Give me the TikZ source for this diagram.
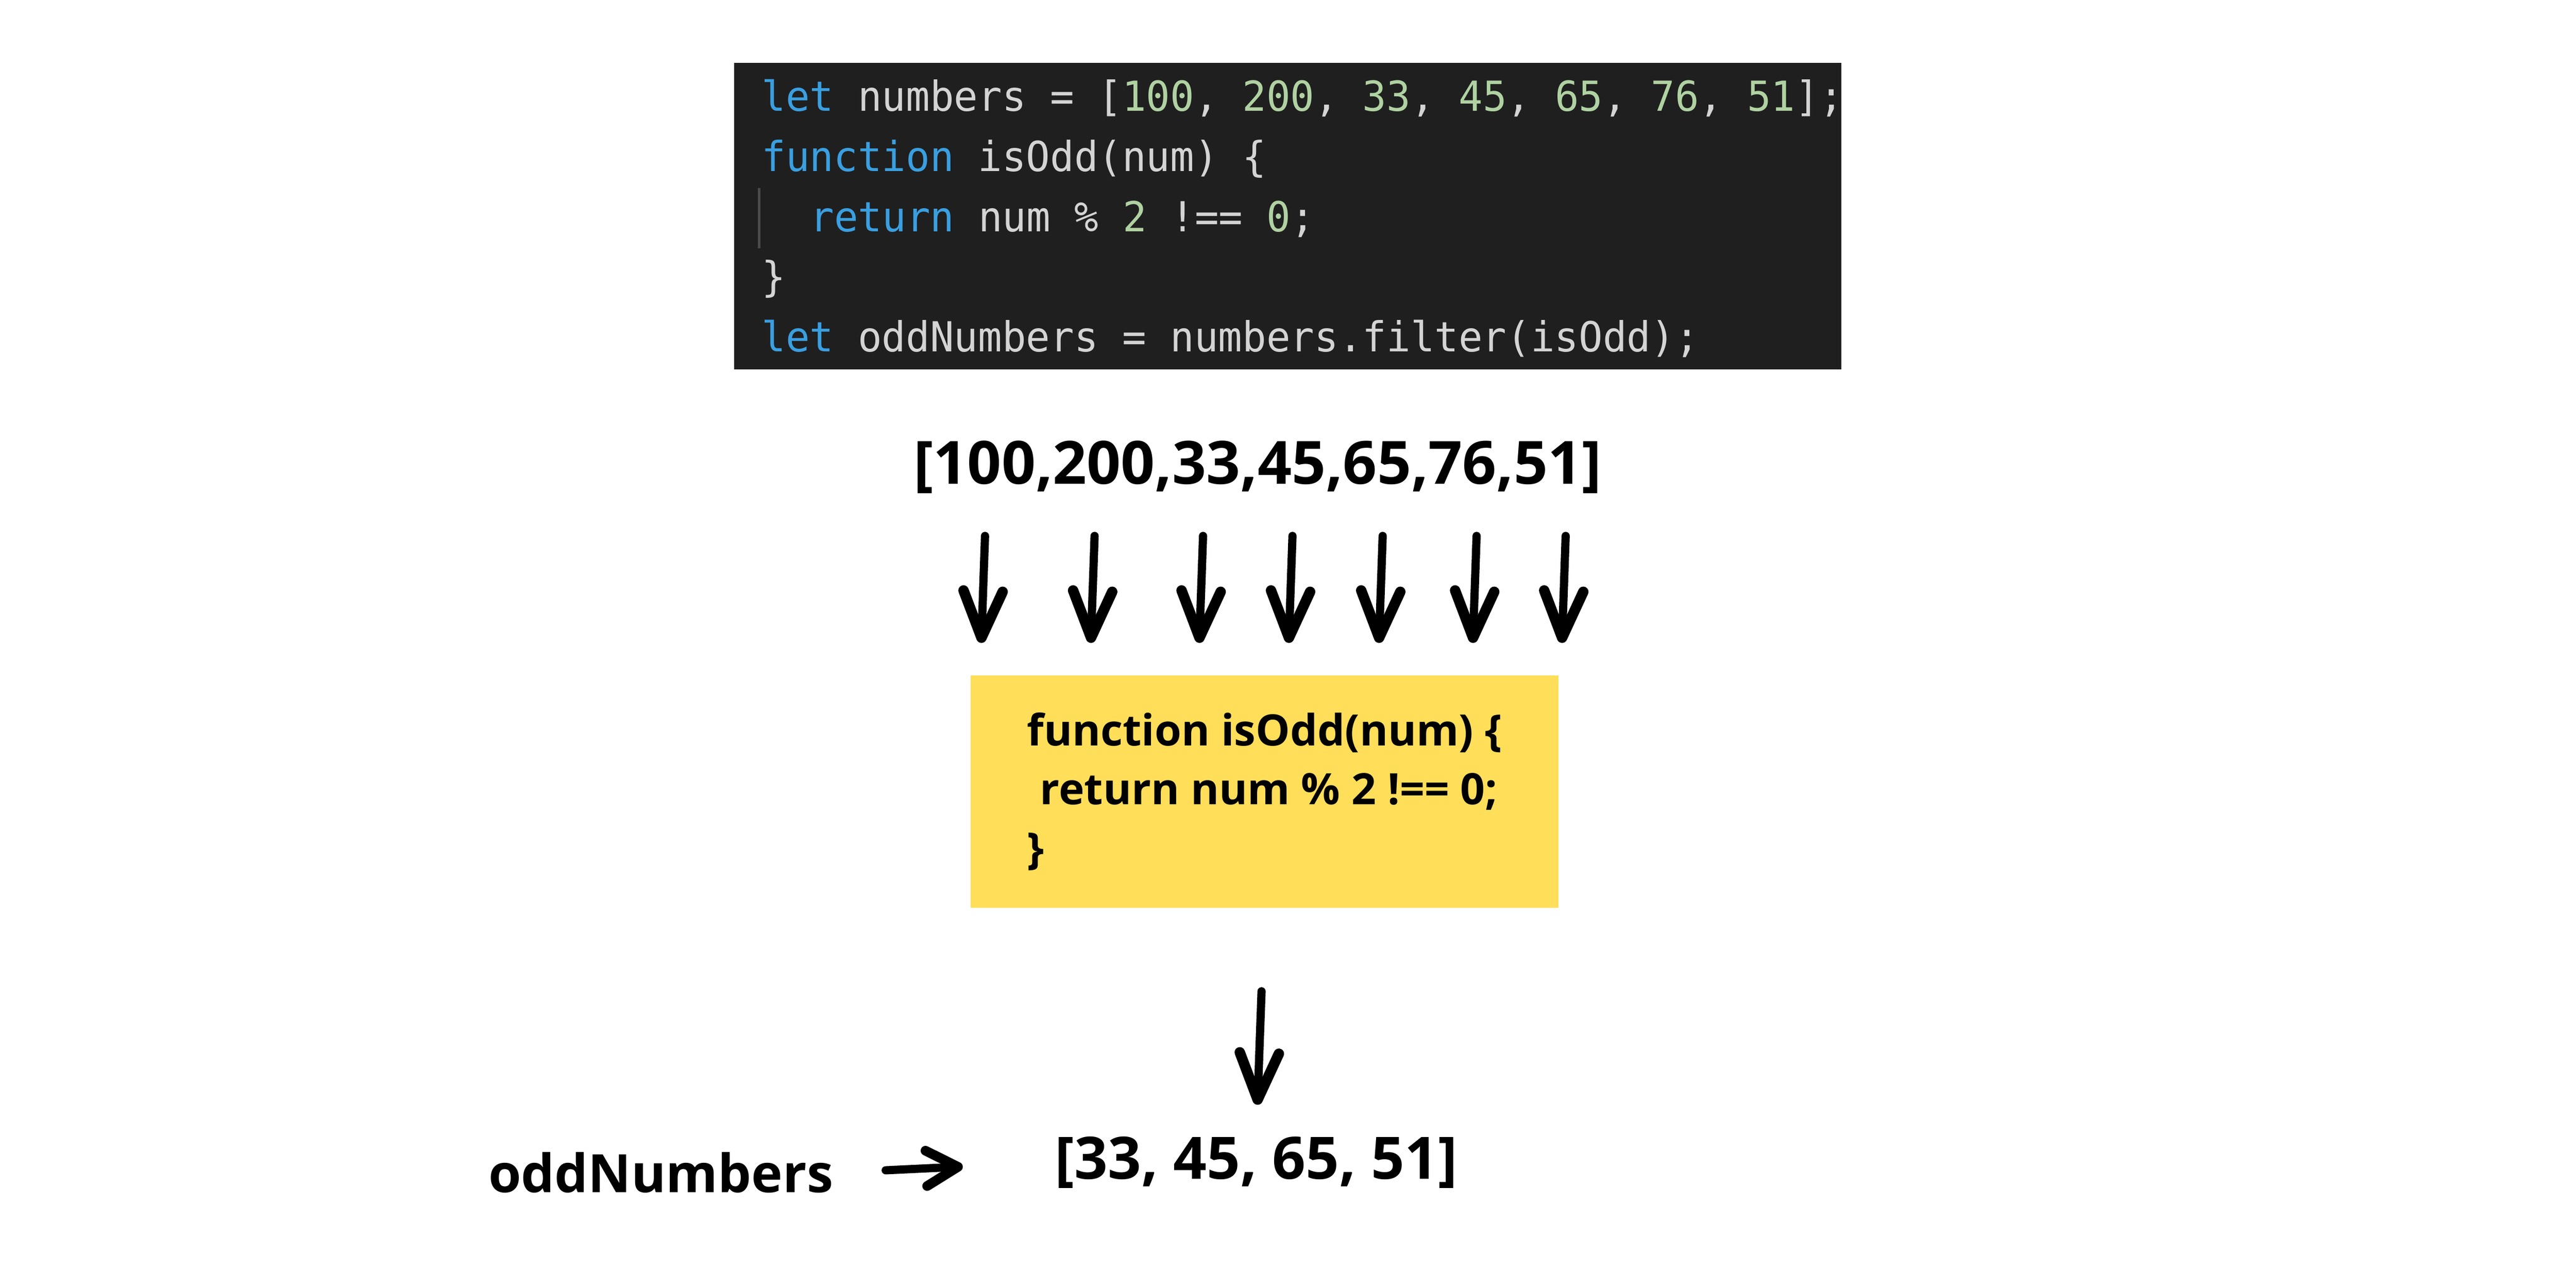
\documentclass[tikz,border=0pt]{standalone}
\usepackage{fontspec}
\setmainfont{Open Sans}
\newfontfamily\codefont{DejaVu Sans Mono}[FakeStretch=0.965]
\usetikzlibrary{arrows.meta}

\definecolor{codebg}{HTML}{1F1F1F}
\definecolor{codetxt}{HTML}{D4D4D4}
\definecolor{kwblue}{HTML}{3A9FE0}
\definecolor{numgreen}{HTML}{B0D2A2}
\definecolor{guide}{HTML}{4A4A4A}
\definecolor{filtyellow}{HTML}{FFDE59}

\newcommand{\kw}[1]{\textcolor{kwblue}{#1}}
\newcommand{\nm}[1]{\textcolor{numgreen}{#1}}

\begin{document}
\begin{tikzpicture}[x=10pt,y=-10pt,
    codeline/.style={anchor=base west,inner sep=0pt,text=codetxt,
      font=\codefont\fontsize{11.1}{13}\selectfont},
    bigtext/.style={inner sep=0pt,font=\bfseries\fontsize{16}{19}\selectfont},
    sketch/.style={line width=2.2pt,line cap=round,
      -{Straight Barb[length=12.5pt,width=10.5pt,line width=2.8pt,round]}},
    sketch small/.style={line width=2.2pt,line cap=round,
      -{Straight Barb[length=8.5pt,width=9.5pt,line width=2.6pt,round]}}]
  \useasboundingbox (0,0) rectangle (69.12,34.56);

  % code screenshot
  \fill[codebg] (19.70,1.69) rectangle (49.41,9.91);
  \draw[guide,line width=0.6pt] (20.37,5.04) -- (20.37,6.66);
  \node[codeline] (code1) at (20.42,2.98) {\kw{let} numbers = [\nm{100}, \nm{200}, \nm{33}, \nm{45}, \nm{65}, \nm{76}, \nm{51}];};
  \node[codeline] (code2) at (20.42,4.60) {\kw{function} isOdd(num) \{};
  \node[codeline] (code3) at (21.72,6.21) {\kw{return} num \% \nm{2} !== \nm{0};};
  \node[codeline] (code4) at (20.42,7.82) {\}};
  \node[codeline] (code5) at (20.42,9.43) {\kw{let} oddNumbers = numbers.filter(isOdd);};

  % input array
  \node[bigtext,anchor=base] (in) at (33.745,12.99) {[100,200,33,45,65,76,51]};
  \foreach \x [count=\i] in {26.33,29.27,32.18,34.58,37.00,39.52,41.91}{
    \coordinate (t\i) at (\x+0.1,14.38);
    \coordinate (h\i) at (\x,17.25);
    \draw[sketch] (t\i) -- (h\i);
  }

  % filter box
  \node[fill=filtyellow,minimum width=157.8pt,minimum height=62.4pt,align=left,
    font=\bfseries\fontsize{11.6}{15.8}\selectfont] (filt) at (33.93,21.24)
    {function isOdd(num) \{\\\hspace*{3.5pt}return num \% 2 !== 0;\\\}};

  % result
  \node[bigtext,anchor=base,font=\bfseries\fontsize{15.7}{19}\selectfont] (out) at (33.71,31.63) {[33, 45, 65, 51]};
  \node[anchor=base west,inner sep=0pt,font=\bfseries\fontsize{14.2}{17}\selectfont] (odd) at (13.09,32.00) {oddNumbers};

  \draw[sketch,shorten <=22.2pt,shorten >=8.3pt] (filt.south) -- (out.north);
  \draw[sketch small,shorten <=13.9pt,shorten >=24.6pt] (odd.east) -- (out.west);
\end{tikzpicture}
\end{document}
